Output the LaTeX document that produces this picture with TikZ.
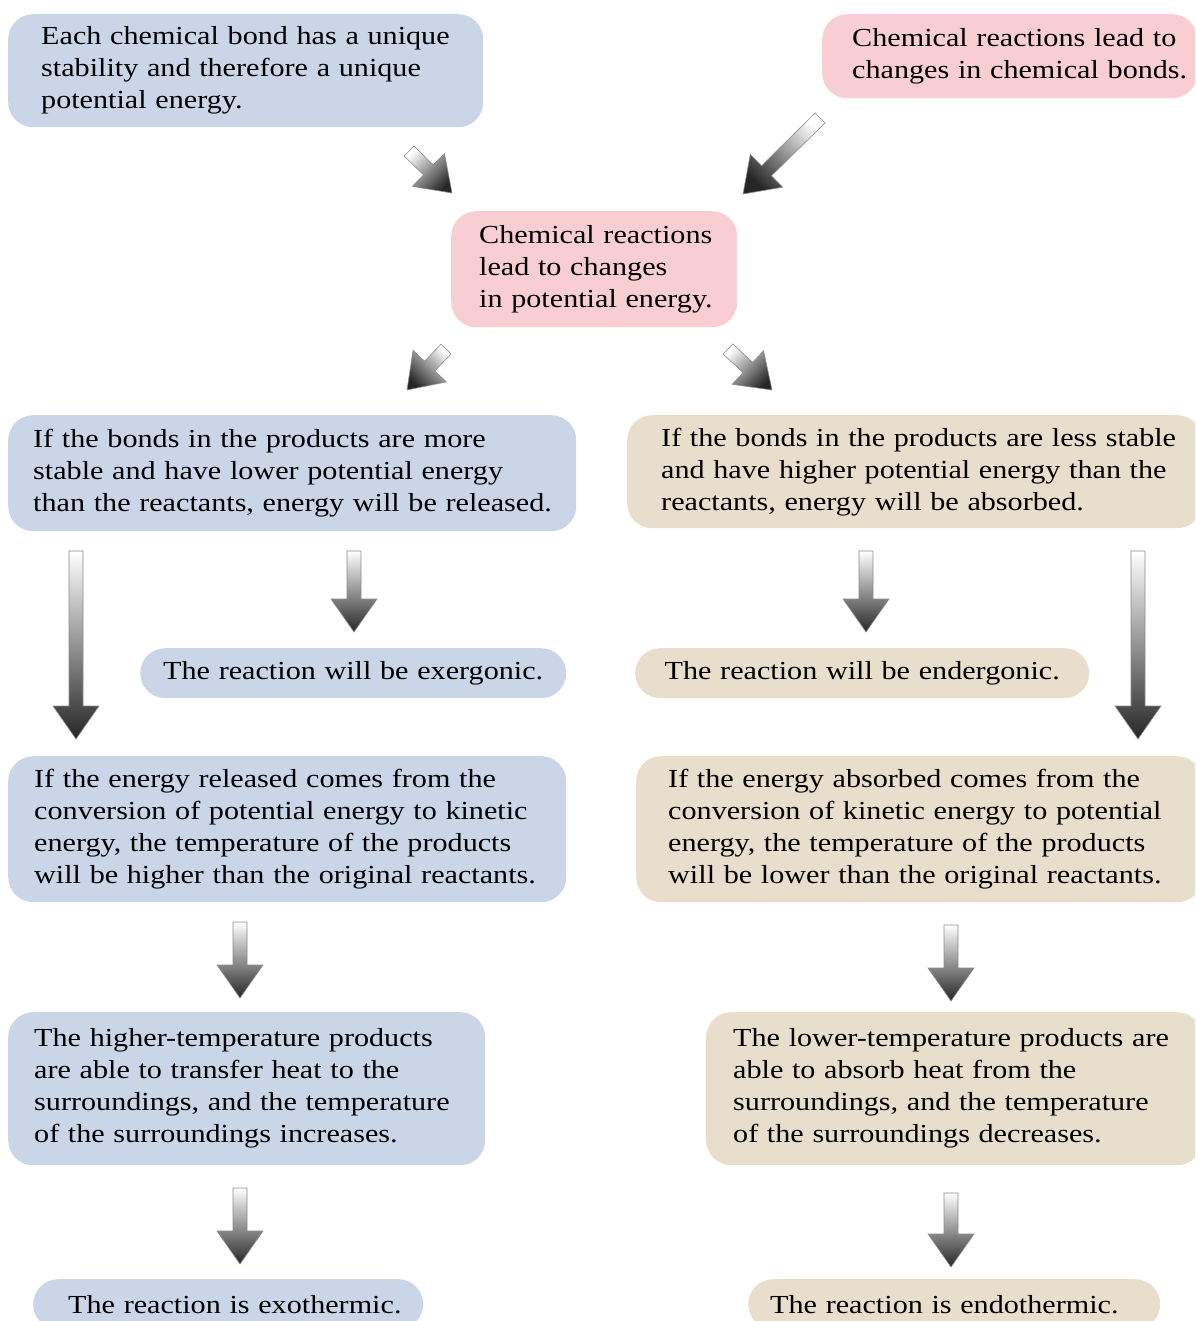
\documentclass[tikz,border=0pt]{standalone}
\usepackage{fontspec}
\setmainfont{Liberation Serif}[FakeStretch=1.16]
\usetikzlibrary{calc}
\definecolor{bluebox}{RGB}{203,213,232}
\definecolor{pinkbox}{RGB}{249,206,210}
\definecolor{tanbox}{RGB}{231,222,204}
\newcommand{\oneline}[1]{\mbox{#1}}
\tikzset{
  box/.style={rounded corners=25pt, anchor=north west, align=left, inner ysep=0pt,
    font=\fontsize{26}{32}\selectfont, text=black},
  cbox/.style={box, align=center},
  blockarrow/.style={draw=black!45, line width=0.6pt, line join=miter,
    top color=white, bottom color=black!85},
}
\newcommand{\blockarr}[3]{%
  \coordinate (hb-#2) at ($(#2)!33pt!(#1)$);
  \path[blockarrow, shading angle=#3]
    ($(#1)!7pt!90:(#2)$) -- ($(hb-#2)!7pt!90:(#2)$) -- ($(hb-#2)!23pt!90:(#2)$)
    -- (#2) -- ($(hb-#2)!23pt!-90:(#2)$) -- ($(hb-#2)!7pt!-90:(#2)$)
    -- ($(#1)!7pt!-90:(#2)$) -- cycle;
}
\begin{document}
\begin{tikzpicture}[x=1pt,y=-1pt]
\useasboundingbox (0,0) rectangle (1195,1321);
\clip (0,0) rectangle (1195,1321);

% boxes
\node[box, fill=bluebox, minimum width=475pt, minimum height=113pt, text width=409pt, inner xsep=33pt] (b1) at (8,14)
  {\oneline{Each chemical bond has a unique}\\\oneline{stability and therefore a unique}\\\oneline{potential energy.}};
\node[box, fill=pinkbox, minimum width=375pt, minimum height=84pt, text width=315pt, inner xsep=30pt] (b2) at (822,14)
  {\oneline{Chemical reactions lead to}\\\oneline{changes in chemical bonds.}};
\node[box, fill=pinkbox, minimum width=286pt, minimum height=116pt, text width=230pt, inner xsep=28pt] (b3) at (451,211)
  {\oneline{Chemical reactions}\\\oneline{lead to changes}\\\oneline{in potential energy.}};
\node[box, fill=bluebox, minimum width=568pt, minimum height=116pt, text width=518pt, inner xsep=25pt] (b4) at (8,415)
  {\oneline{If the bonds in the products are more}\\\oneline{stable and have lower potential energy}\\\oneline{than the reactants, energy will be released.}};
\node[box, fill=tanbox, minimum width=575pt, minimum height=113pt, text width=507pt, inner xsep=34pt] (b5) at (627,415)
  {\oneline{If the bonds in the products are less stable}\\\oneline{and have higher potential energy than the}\\\oneline{reactants, energy will be absorbed.}};
\node[cbox, fill=bluebox, minimum width=426pt, minimum height=50pt, text width=386pt, inner xsep=20pt] (b6) at (140,648)
  {\oneline{The reaction will be exergonic.}};
\node[cbox, fill=tanbox, minimum width=454pt, minimum height=50pt, text width=414pt, inner xsep=20pt] (b7) at (635,648)
  {\oneline{The reaction will be endergonic.}};
\node[box, fill=bluebox, minimum width=558pt, minimum height=146pt, text width=506pt, inner xsep=26pt] (b8) at (8,756)
  {\oneline{If the energy released comes from the}\\\oneline{conversion of potential energy to kinetic}\\\oneline{energy, the temperature of the products}\\\oneline{will be higher than the original reactants.}};
\node[box, fill=tanbox, minimum width=566pt, minimum height=146pt, text width=502pt, inner xsep=32pt] (b9) at (636,756)
  {\oneline{If the energy absorbed comes from the}\\\oneline{conversion of kinetic energy to potential}\\\oneline{energy, the temperature of the products}\\\oneline{will be lower than the original reactants.}};
\node[box, fill=bluebox, minimum width=477pt, minimum height=153pt, text width=425pt, inner xsep=26pt] (b10) at (8,1012)
  {\oneline{The higher-temperature products}\\\oneline{are able to transfer heat to the}\\\oneline{surroundings, and the temperature}\\\oneline{of the surroundings increases.}};
\node[box, fill=tanbox, minimum width=496pt, minimum height=153pt, text width=442pt, inner xsep=27pt] (b11) at (706,1012)
  {\oneline{The lower-temperature products are}\\\oneline{able to absorb heat from the}\\\oneline{surroundings, and the temperature}\\\oneline{of the surroundings decreases.}};
\node[box, fill=bluebox, minimum width=390pt, minimum height=50pt, text width=320pt, inner xsep=35pt] (b12) at (33,1279)
  {\oneline{The reaction is exothermic.}};
\node[box, fill=tanbox, minimum width=412pt, minimum height=50pt, text width=368pt, inner xsep=22pt] (b13) at (748,1279)
  {\oneline{The reaction is endothermic.}};

% arrows
\coordinate (a1t) at (409,151);  \coordinate (a1h) at (452,193);
\coordinate (a2t) at (820,118);  \coordinate (a2h) at (743,194);
\coordinate (a3t) at (446,349);  \coordinate (a3h) at (407,390);
\coordinate (a4t) at (728,349);  \coordinate (a4h) at (772,390);
\coordinate (a5t) at (76,551);   \coordinate (a5h) at (76,739);
\coordinate (a6t) at (354,551);  \coordinate (a6h) at (354,632);
\coordinate (a7t) at (866,551);  \coordinate (a7h) at (866,632);
\coordinate (a8t) at (1138,551); \coordinate (a8h) at (1138,739);
\coordinate (a9t) at (240,922);  \coordinate (a9h) at (240,998);
\coordinate (a10t) at (951,925); \coordinate (a10h) at (951,1001);
\coordinate (a11t) at (240,1188); \coordinate (a11h) at (240,1264);
\coordinate (a12t) at (951,1193); \coordinate (a12h) at (951,1267);

\blockarr{a1t}{a1h}{45}
\blockarr{a2t}{a2h}{-45}
\blockarr{a3t}{a3h}{-45}
\blockarr{a4t}{a4h}{45}
\blockarr{a5t}{a5h}{0}
\blockarr{a6t}{a6h}{0}
\blockarr{a7t}{a7h}{0}
\blockarr{a8t}{a8h}{0}
\blockarr{a9t}{a9h}{0}
\blockarr{a10t}{a10h}{0}
\blockarr{a11t}{a11h}{0}
\blockarr{a12t}{a12h}{0}
\end{tikzpicture}
\end{document}
